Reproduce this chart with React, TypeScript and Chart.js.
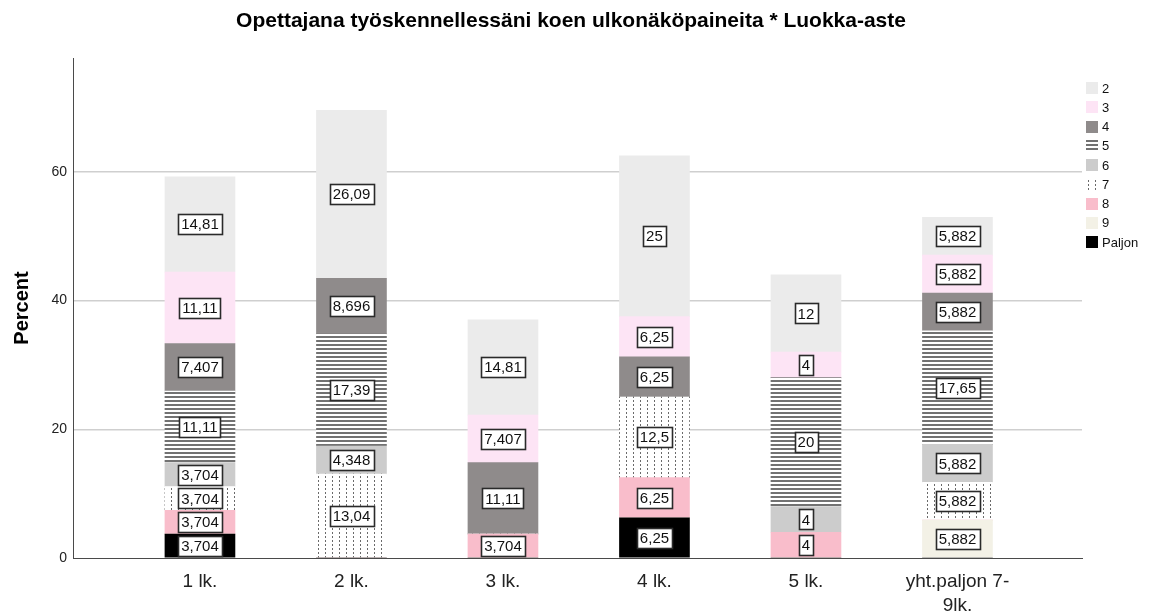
import React, { useEffect, useRef } from "react";
import { Chart, registerables } from "chart.js";
Chart.register(...registerables);

const categories: string[][] = [["1 lk."], ["2 lk."], ["3 lk."], ["4 lk."], ["5 lk."], ["yht.paljon 7-", "9lk."]];
const seriesNames = ["Paljon", "9", "8", "7", "6", "5", "4", "3", "2"];
const sPaljon = [3.704, 0, 0, 6.25, 0, 0];
const s9 = [0, 0, 0, 0, 0, 5.882];
const s8 = [3.704, 0, 3.704, 6.25, 4, 0];
const s7 = [3.704, 13.04, 0, 12.5, 0, 5.882];
const s6 = [3.704, 4.348, 0, 0, 4, 5.882];
const s5 = [11.11, 17.39, 0, 0, 20, 17.65];
const s4 = [7.407, 8.696, 11.11, 6.25, 0, 5.882];
const s3 = [11.11, 0, 7.407, 6.25, 4, 5.882];
const s2 = [14.81, 26.09, 14.81, 25, 12, 5.882];
const seriesValues = [sPaljon, s9, s8, s7, s6, s5, s4, s3, s2];
const yTicks = [0, 20, 40, 60];
const legendOrder = ["2", "3", "4", "5", "6", "7", "8", "9", "Paljon"];
const titleText = "Opettajana työskennellessäni koen ulkonäköpaineita * Luokka-aste";
const yTitle = "Percent";

const FONT = "'Liberation Sans', Arial, sans-serif";

function makeStripe(ctx: CanvasRenderingContext2D) {
  const c = document.createElement("canvas");
  c.width = 8; c.height = 4;
  const g = c.getContext("2d")!;
  g.fillStyle = "#ffffff"; g.fillRect(0, 0, 8, 4);
  g.fillStyle = "#727272"; g.fillRect(0, 0, 8, 2);
  return ctx.createPattern(c, "repeat")!;
}
function makeDots(ctx: CanvasRenderingContext2D) {
  const c = document.createElement("canvas");
  c.width = 7; c.height = 4;
  const g = c.getContext("2d")!;
  g.fillStyle = "#ffffff"; g.fillRect(0, 0, 7, 4);
  g.fillStyle = "#6a6a6a"; g.fillRect(3, 0, 1, 2);
  return ctx.createPattern(c, "repeat")!;
}

export default function App() {
  const ref = useRef<HTMLCanvasElement>(null);
  useEffect(() => {
    const canvas = ref.current!;
    const ctx = canvas.getContext("2d")!;
    const stripe = makeStripe(ctx);
    const dots = makeDots(ctx);
    const colors: any[] = ["#000000", "#f3f1e6", "#f9bdcb", dots, "#cccccc", stripe, "#8f8b8b", "#fde4f5", "#ebebeb"];

    const fmt = (v: number) => String(v).replace(".", ",");

    const custom = {
      id: "custom",
      afterDatasetsDraw(chart: any) {
        const c = chart.ctx;
        c.save();
        c.font = `15px ${FONT}`;
        c.textAlign = "center";
        c.textBaseline = "middle";
        chart.data.datasets.forEach((ds: any, di: number) => {
          const meta = chart.getDatasetMeta(di);
          meta.data.forEach((el: any, i: number) => {
            const v = seriesValues[di][i];
            if (!v) return;
            const txt = fmt(v);
            const cx = el.x;
            const cy = (el.y + el.base) / 2;
            const w = c.measureText(txt).width + 6;
            const h = 20;
            const x0 = Math.round(cx - w / 2) + 0.5;
            const y0 = Math.round(cy - h / 2) + 0.5;
            c.fillStyle = "#ffffff";
            c.fillRect(x0, y0, Math.round(w), h);
            c.strokeStyle = "#2a2a2a";
            c.lineWidth = 1.6;
            c.strokeRect(x0, y0, Math.round(w), h);
            c.fillStyle = "#111";
            c.fillText(txt, cx, cy + 1);
          });
        });
        c.restore();
      },
      afterDraw(chart: any) {
        const c = chart.ctx;
        c.save();
        c.fillStyle = "#000";
        c.font = `bold 21px ${FONT}`;
        c.textAlign = "center";
        c.textBaseline = "middle";
        c.fillText(titleText, 571, 21);
        // y title
        c.save();
        c.translate(22, 308);
        c.rotate(-Math.PI / 2);
        c.font = `bold 20px ${FONT}`;
        c.fillText(yTitle, 0, 0);
        c.restore();
        // legend
        c.font = `13px ${FONT}`;
        c.textAlign = "left";
        legendOrder.forEach((name, k) => {
          const di = seriesNames.indexOf(name);
          const cy = 88 + k * 19.25;
          c.fillStyle = colors[di];
          c.fillRect(1086, Math.round(cy - 6), 12, 12);
          c.fillStyle = "#111";
          c.fillText(name, 1102, cy + 1);
        });
        c.restore();
      },
    };

    const chart = new Chart(canvas, {
      type: "bar",
      data: {
        datasets: seriesNames.map((n, i) => ({
          label: n,
          data: seriesValues[i].map((v, j) => ({ x: j, y: v })),
          backgroundColor: colors[i],
          borderWidth: 0,
          barThickness: 70,
        })),
      } as any,
      options: {
        animation: false,
        responsive: false,
        maintainAspectRatio: false,
        layout: { padding: { top: 58, right: 70, left: 0, bottom: 0 } },
        plugins: { legend: { display: false }, title: { display: false }, tooltip: { enabled: false } },
        scales: {
          x: {
            type: "linear",
            stacked: true,
            offset: false,
            min: -0.838,
            max: 5.822,
            afterBuildTicks: (s: any) => {
              s.ticks = categories.map((_, i) => ({ value: i }));
            },
            afterFit: (s: any) => { s.height = 54; },
            grid: { display: false, drawTicks: false },
            border: { display: true, color: "#4a4a4a", width: 1 },
            ticks: {
              autoSkip: false,
              maxRotation: 0,
              padding: 12,
              color: "#222",
              font: { family: FONT, size: 19, lineHeight: 1.25 },
              callback: (v: any) => categories[Math.round(v)] ?? "",
            },
          },
          y: {
            type: "linear",
            stacked: true,
            min: 0,
            max: 77.7,
            afterBuildTicks: (s: any) => {
              s.ticks = yTicks.map((v) => ({ value: v }));
            },
            afterFit: (s: any) => { s.width = 73; },
            grid: {
              drawTicks: false,
              lineWidth: 1.5,
              color: (c: any) => (c.tick && c.tick.value === 0 ? "rgba(0,0,0,0)" : "#cfcfcf"),
            },
            border: { display: true, color: "#4a4a4a", width: 1 },
            ticks: {
              padding: 6,
              color: "#222",
              font: { family: FONT, size: 14 },
            },
          },
        },
      } as any,
      plugins: [custom],
    });
    return () => chart.destroy();
  }, []);
  return (
    <div style={{ position: "fixed", left: 0, top: 0, width: 1152, height: 612, background: "#fff" }}>
      <canvas ref={ref} width={1152} height={612} style={{ width: 1152, height: 612 }} />
    </div>
  );
}
